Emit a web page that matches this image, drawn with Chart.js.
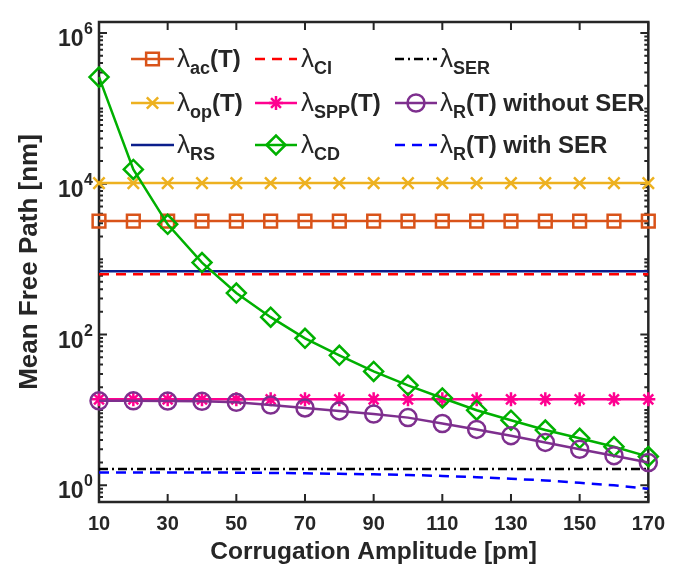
<!DOCTYPE html>
<html><head><meta charset="utf-8">
<script src="https://cdn.jsdelivr.net/npm/chart.js@4.4.0/dist/chart.umd.min.js"></script>
<style>html,body{margin:0;padding:0;background:#fff;}#wrap{width:675px;height:581px;}</style>
</head><body><div id="wrap"><canvas id="c" width="675" height="581"></canvas></div>
<script>
// ---- data ----
const amplitude = [10,20,30,40,50,60,70,80,90,100,110,120,130,140,150,160,170];
const xTickValues = [10,30,50,70,90,110,130,150,170];
const yTickValues = [1,100,10000,1000000];
const lambdaAc  = [3200,3200,3200,3200,3200,3200,3200,3200,3200,3200,3200,3200,3200,3200,3200,3200,3200];
const lambdaOp  = [10200,10200,10200,10200,10200,10200,10200,10200,10200,10200,10200,10200,10200,10200,10200,10200,10200];
const lambdaRS  = [690,690,690,690,690,690,690,690,690,690,690,690,690,690,690,690,690];
const lambdaCI  = [630,630,630,630,630,630,630,630,630,630,630,630,630,630,630,630,630];
const lambdaSPP = [13.8,13.8,13.8,13.8,13.8,13.8,13.8,13.8,13.8,13.8,13.8,13.8,13.8,13.8,13.8,13.8,13.8];
const lambdaCD  = [260000,15500,2900,900,355,170,89,53,32.4,21.2,14.4,9.9,7.3,5.4,4.2,3.25,2.4];
const lambdaSER = [1.65,1.65,1.65,1.65,1.65,1.65,1.65,1.65,1.65,1.65,1.65,1.65,1.65,1.65,1.65,1.65,1.65];
const lambdaR   = [13.2,13.2,13.1,13.0,12.6,11.6,10.6,9.7,8.8,7.9,6.6,5.5,4.55,3.7,3.0,2.47,2.0];
const lambdaRwithSER = [1.48,1.48,1.48,1.48,1.47,1.46,1.44,1.42,1.40,1.37,1.33,1.28,1.22,1.16,1.08,1.00,0.90];

const FONT = "'Liberation Sans', Arial, Helvetica, sans-serif";
const TXT = '#262626';
const LW = 2.5;

const series = [
  {sub:'ac',  suffix:'(T)', data:lambdaAc,  color:'#D95319', style:'rect',     radius:9,   dash:[]},
  {sub:'op',  suffix:'(T)', data:lambdaOp,  color:'#EDB120', style:'crossRot', radius:8,   dash:[]},
  {sub:'RS',  suffix:'',    data:lambdaRS,  color:'#0b1e8c', style:null,       radius:0,   dash:[]},
  {sub:'CI',  suffix:'',    data:lambdaCI,  color:'#FF0000', style:null,       radius:0,   dash:[10,7]},
  {sub:'SPP', suffix:'(T)', data:lambdaSPP, color:'#FF0090', style:'star',     radius:7,   dash:[]},
  {sub:'CD',  suffix:'',    data:lambdaCD,  color:'#00B000', style:'rectRot',  radius:9.5, dash:[]},
  {sub:'SER', suffix:'',    data:lambdaSER, color:'#000000', style:null,       radius:0,   dash:[9,4,2,4]},
  {sub:'R',   suffix:'(T) without SER', data:lambdaR, color:'#7E2F8E', style:'circle', radius:8.5, dash:[]},
  {sub:'R',   suffix:'(T) with SER', data:lambdaRwithSER, color:'#0000FF', style:null, radius:0, dash:[10,7]}
];

const datasets = series.map((s, i) => ({
  label: 'λ' + s.sub + s.suffix,
  data: amplitude.map((x, k) => ({x: x, y: s.data[k]})),
  borderColor: s.color,
  borderWidth: LW,
  borderDash: s.dash,
  pointStyle: s.style || 'circle',
  pointRadius: s.style ? s.radius : 0,
  pointHoverRadius: s.style ? s.radius : 0,
  pointBorderColor: s.color,
  pointBackgroundColor: 'rgba(0,0,0,0)',
  pointBorderWidth: LW,
  tension: 0,
  fill: false,
  clip: false,
  order: series.length - i
}));

function drawMarker(ctx, style, radius, x, y) {
  if (Chart.helpers && Chart.helpers.drawPoint) {
    Chart.helpers.drawPoint(ctx, {pointStyle: style, radius: radius, borderWidth: LW, rotation: 0}, x, y);
  }
}

const axesPlugin = {
  id: 'axesBox',
  beforeDatasetsDraw(chart) {
    const {ctx, chartArea: a, scales: {x, y}} = chart;
    ctx.save();
    ctx.strokeStyle = TXT;
    ctx.lineWidth = 2.5;
    ctx.setLineDash([]);
    ctx.strokeRect(a.left, a.top, a.right - a.left, a.bottom - a.top);
    ctx.lineWidth = 2;
    ctx.beginPath();
    xTickValues.forEach(v => {
      const px = x.getPixelForValue(v);
      ctx.moveTo(px, a.bottom); ctx.lineTo(px, a.bottom - 8);
      ctx.moveTo(px, a.top); ctx.lineTo(px, a.top + 8);
    });
    for (let e = -1; e <= 6; e++) {
      for (let m = 1; m <= 9; m++) {
        const v = m * Math.pow(10, e);
        if (v < y.min || v > y.max) continue;
        const py = y.getPixelForValue(v);
        const major = m === 1 && yTickValues.indexOf(v) >= 0;
        const len = major ? 8 : 4;
        ctx.moveTo(a.left, py); ctx.lineTo(a.left + len, py);
        ctx.moveTo(a.right, py); ctx.lineTo(a.right - len, py);
      }
    }
    ctx.stroke();
    // y tick labels 10^n
    ctx.fillStyle = TXT;
    y.ticks.forEach(t => {
      const py = y.getPixelForValue(t.value);
      const ex = String(Math.round(Math.log10(t.value)));
      ctx.font = 'bold 16px ' + FONT;
      const sw = ctx.measureText(ex).width;
      const supLeft = 93 - sw;
      ctx.textBaseline = 'alphabetic';
      ctx.textAlign = 'left';
      ctx.fillText(ex, supLeft, py + 1);
      ctx.font = 'bold 23px ' + FONT;
      ctx.textAlign = 'right';
      ctx.fillText('10', supLeft - 0.5, py + 13);
    });
    ctx.restore();
  }
};

const legendPlugin = {
  id: 'mLegend',
  afterDraw(chart) {
    const ctx = chart.ctx;
    const lineStart = [131, 255, 395];
    const lineEnd = [174, 297, 437];
    const textStart = [177, 301, 440];
    const rows = [59, 103, 145];
    ctx.save();
    series.forEach((s, i) => {
      const col = Math.floor(i / 3), row = i % 3;
      const yy = rows[row];
      ctx.strokeStyle = s.color;
      ctx.lineWidth = LW;
      ctx.setLineDash(s.dash);
      ctx.beginPath();
      ctx.moveTo(lineStart[col], yy); ctx.lineTo(lineEnd[col], yy);
      ctx.stroke();
      ctx.setLineDash([]);
      if (s.style) {
        ctx.fillStyle = 'rgba(0,0,0,0)';
        drawMarker(ctx, s.style, s.radius, (lineStart[col] + lineEnd[col]) / 2, yy);
      }
      ctx.fillStyle = TXT;
      ctx.textAlign = 'left';
      ctx.textBaseline = 'alphabetic';
      let tx = textStart[col];
      const base = yy + 8;
      ctx.font = '26px ' + FONT;
      ctx.fillText('λ', tx, base);
      tx += ctx.measureText('λ').width;
      ctx.font = 'bold 18px ' + FONT;
      ctx.fillText(s.sub, tx, base + 7);
      tx += ctx.measureText(s.sub).width;
      if (s.suffix) {
        ctx.font = 'bold 24px ' + FONT;
        ctx.fillText(s.suffix, tx, base);
      }
    });
    ctx.restore();
  }
};

new Chart(document.getElementById('c'), {
  type: 'line',
  data: {datasets: datasets},
  options: {
    responsive: false,
    animation: false,
    devicePixelRatio: 1,
    layout: {padding: {left: 0, right: 22, top: 22, bottom: 0}},
    plugins: {legend: {display: false}, tooltip: {enabled: false}},
    scales: {
      x: {
        type: 'linear', min: 10, max: 170,
        grid: {display: false, drawTicks: false},
        border: {display: false},
        afterBuildTicks: s => { s.ticks = xTickValues.map(v => ({value: v})); },
        afterFit: s => { s.height = 79; },
        ticks: {autoSkip: false, maxRotation: 0, padding: 10, color: TXT,
                font: {family: FONT, size: 20, weight: 'bold'}},
        title: {display: true, text: 'Corrugation Amplitude [pm]', color: TXT,
                font: {family: FONT, size: 24.5, weight: 'bold'}, padding: {top: 0, bottom: 14.3}}
      },
      y: {
        type: 'logarithmic', min: 0.63, max: 1.4e6,
        grid: {display: false, drawTicks: false},
        border: {display: false},
        afterBuildTicks: s => { s.ticks = yTickValues.map(v => ({value: v})); },
        afterFit: s => { s.width = 99; },
        ticks: {display: false},
        title: {display: true, text: 'Mean Free Path [nm]', color: TXT,
                font: {family: FONT, size: 26, weight: 'bold'}, padding: {top: 14.4, bottom: 0}}
      }
    }
  },
  plugins: [axesPlugin, legendPlugin]
});
</script>
</body></html>
